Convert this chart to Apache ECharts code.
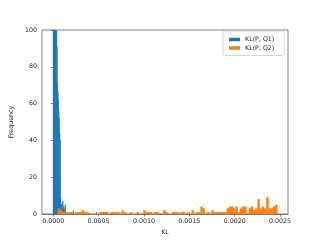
<!DOCTYPE html>
<html>
<head>
<meta charset="utf-8">
<script src="https://cdn.jsdelivr.net/npm/echarts@6/dist/echarts.min.js"></script>
<style>html,body{margin:0;padding:0;background:#fff}#c{width:320px;height:241px}</style>
</head>
<body>
<div id="c"></div>
<script>
// ---- data ----
const seriesNames = ['KL(P, Q1)', 'KL(P, Q2)'];
const xTicks = [0, 0.0005, 0.0010, 0.0015, 0.0020, 0.0025];
const yTicks = [0, 20, 40, 60, 80, 100];

// KL(P, Q1): narrow bins near zero (left edge of each bin, count)
const q1BinWidth = 0.000005;
const q1BinStart = [0, 0.000005, 0.00001, 0.000015, 0.00002, 0.000025, 0.00003, 0.000035,
  0.00004, 0.000045, 0.00005, 0.000055, 0.00006, 0.000065, 0.00007, 0.000075,
  0.00008, 0.000085, 0.00009, 0.000095, 0.0001, 0.000105, 0.00011, 0.000115,
  0.00012, 0.000125, 0.00013, 0.000135, 0.00022, 0.000475];
const q1Counts = [520, 440, 360, 300, 250, 200, 160, 120,
  91, 71, 66, 62, 56, 52, 44, 40,
  9, 5, 2, 6, 3, 7, 2, 4,
  1, 3, 5, 1, 2, 1];

// KL(P, Q2): 100 equal bins
const q2BinStart = 0.0000514;
const q2BinWidth = 0.00002418;
const q2Counts = [
  3,2,1,1,1,1,1,0,1,1,
  1,2,1,1,0,0,0,0,0,1,
  1,1,1,0,1,1,1,1,0,2,
  1,0,0,1,0,0,1,0,0,2,
  1,1,1,0,1,1,0,0,2,1,
  0,0,1,1,1,0,1,1,0,1,
  0,2,0,1,1,4,3,0,1,0,
  2,1,1,1,1,1,1,3,4,4,
  3,4,1,3,4,4,0,3,4,2,
  3,8,3,4,3,9,3,3,4,5];

const xRange = [-0.000124, 0.002588];
const yRange = [0, 100];

// ---- build ----
const q1Data = q1BinStart.map((s, i) => [s, s + q1BinWidth, q1Counts[i]]);
const q2Data = q2Counts.map((c, i) => [q2BinStart + i * q2BinWidth, q2BinStart + (i + 1) * q2BinWidth, c]);

const colors = ['#1f77b4', '#ff7f0e'];
const FONT = 'DejaVu Sans';

function makeRender(color, seam) {
  return function (params, api) {
    const p0 = api.coord([api.value(0), api.value(2)]);
    const p1 = api.coord([api.value(1), 0]);
    return {
      type: 'rect',
      shape: { x: p0[0], y: p0[1], width: p1[0] - p0[0], height: p1[1] - p0[1] },
      style: { fill: color, stroke: seam ? color : null, lineWidth: seam }
    };
  };
}

const chart = echarts.init(document.getElementById('c'), null, { renderer: 'canvas' });
chart.setOption({
  animation: false,
  color: colors,
  textStyle: { fontFamily: FONT },
  grid: { left: 40, top: 30, width: 248, height: 184, show: true, borderColor: '#666', borderWidth: 0.8, backgroundColor: 'transparent' },
  legend: {
    orient: 'vertical', left: 223, top: 31,
    padding: [5, 10, 4, 6],
    itemWidth: 11, itemHeight: 3.5, itemGap: 1.5,
    borderColor: '#cccccc', borderWidth: 0.8, borderRadius: 2,
    backgroundColor: 'rgba(255,255,255,0.8)',
    textStyle: { fontSize: 6.3, color: '#222', fontFamily: FONT, lineHeight: 7 },
    data: seriesNames.map(n => ({ name: n, icon: 'rect' }))
  },
  xAxis: {
    type: 'value', min: xRange[0], max: xRange[1],
    name: 'KL', nameLocation: 'middle', nameGap: 14,
    nameTextStyle: { fontSize: 6.3, color: '#222', fontFamily: FONT },
    axisLine: { show: true, onZero: false, lineStyle: { color: '#666', width: 0.8 } },
    axisTick: { show: true, length: 2.5, customValues: xTicks, lineStyle: { color: '#666', width: 0.8 } },
    axisLabel: { customValues: xTicks, margin: 4, fontSize: 6.3, color: '#222', fontFamily: FONT,
      formatter: v => Number(v).toFixed(4) },
    splitLine: { show: false }
  },
  yAxis: {
    type: 'value', min: yRange[0], max: yRange[1], interval: 20,
    name: 'Frequency', nameLocation: 'middle', nameGap: 18,
    nameTextStyle: { fontSize: 6.3, color: '#222', fontFamily: FONT },
    axisLine: { show: true, lineStyle: { color: '#666', width: 0.8 } },
    axisTick: { show: true, length: 2.5, lineStyle: { color: '#666', width: 0.8 } },
    axisLabel: { margin: 5, fontSize: 6.3, color: '#222', fontFamily: FONT,
      formatter: v => yTicks.includes(v) ? String(v) : '' },
    splitLine: { show: false }
  },
  series: [
    { name: seriesNames[0], type: 'custom', clip: true, renderItem: makeRender(colors[0], 0.5),
      itemStyle: { color: colors[0] }, encode: { x: [0, 1], y: 2 }, data: q1Data },
    { name: seriesNames[1], type: 'custom', clip: true, renderItem: makeRender(colors[1], 0.3),
      itemStyle: { color: colors[1] }, encode: { x: [0, 1], y: 2 }, data: q2Data }
  ]
});
</script>
</body>
</html>
